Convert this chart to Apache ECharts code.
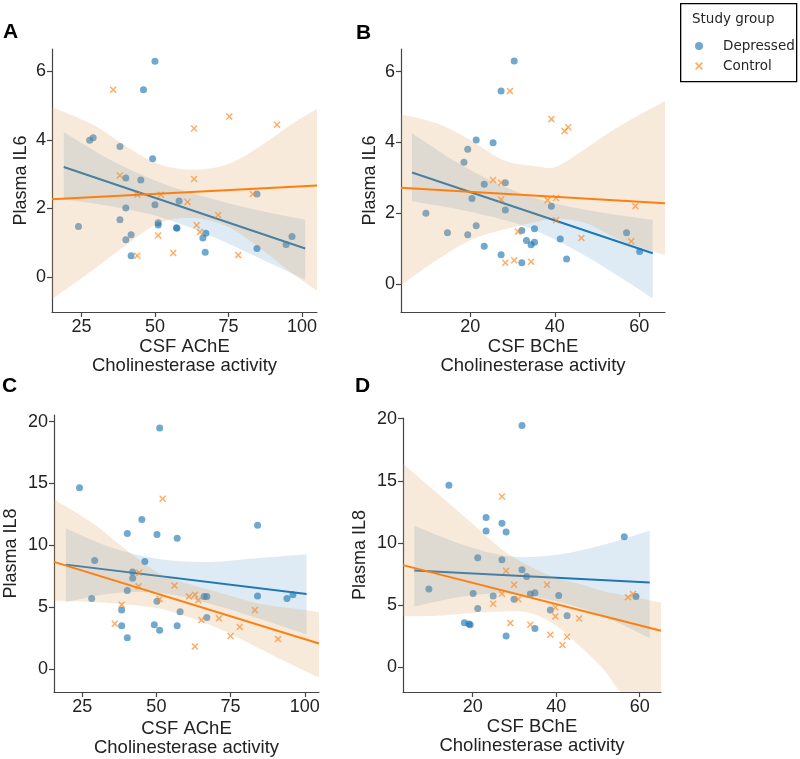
<!DOCTYPE html>
<html><head><meta charset="utf-8">
<script src="https://cdn.jsdelivr.net/npm/echarts@6/dist/echarts.min.js"></script>
<style>html,body{margin:0;padding:0;background:#fff}#c{width:800px;height:759px}</style>
</head><body><div id="c"></div>
<script>
// ---------------- data ----------------
// Panel A: CSF AChE vs Plasma IL6
const depA = [[50.0,6.29],[46.1,5.46],[27.8,3.99],[29.0,4.06],[38.1,3.81],[49.2,3.45],[40.1,2.89],[45.2,2.83],[84.7,2.42],[50.0,2.11],[58.2,2.22],[40.1,2.01],[38.1,1.67],[24.0,1.47],[51.1,1.58],[51.1,1.52],[57.3,1.44],[57.5,1.42],[41.9,1.23],[40.1,1.09],[67.3,1.28],[66.3,1.14],[84.7,0.83],[94.6,0.95],[96.6,1.18],[41.9,0.62],[67.1,0.72]];
const ctlA = [[35.8,5.46],[63.3,4.33],[75.3,4.68],[91.5,4.44],[38.1,2.96],[63.3,2.86],[44.0,2.40],[52.0,2.40],[83.3,2.42],[61.1,2.19],[71.5,1.81],[51.1,1.21],[64.2,1.51],[65.3,1.31],[56.2,0.70],[44.0,0.62],[78.3,0.64]];
// Panel B: CSF BChE vs Plasma IL6
const depB = [[30.4,6.30],[27.3,5.45],[21.4,4.07],[25.4,3.99],[19.4,3.81],[18.5,3.44],[23.3,2.82],[28.3,2.86],[20.4,2.42],[28.3,2.09],[39.2,2.20],[9.5,2.00],[21.4,1.65],[14.6,1.45],[19.4,1.39],[32.2,1.51],[35.2,1.56],[33.3,1.23],[35.2,1.18],[34.4,1.11],[41.3,1.27],[57.0,1.45],[60.1,0.92],[23.3,1.07],[27.3,0.83],[32.2,0.60],[42.8,0.71]];
const ctlB = [[29.4,5.45],[39.2,4.66],[42.3,4.32],[43.2,4.43],[25.4,2.94],[27.3,2.86],[27.3,2.39],[38.3,2.37],[40.3,2.43],[59.1,2.20],[40.3,1.80],[31.3,1.48],[46.3,1.30],[58.1,1.21],[28.3,0.60],[30.4,0.67],[34.4,0.63]];
// Panel C: CSF AChE vs Plasma IL8
const depC = [[51.1,19.49],[24.1,14.65],[45.1,12.08],[40.2,10.95],[50.2,10.87],[57.0,10.57],[84.1,11.62],[29.2,8.76],[46.1,8.68],[42.0,7.84],[42.0,7.32],[40.2,6.33],[28.2,5.68],[50.2,5.46],[66.1,5.84],[67.0,5.84],[84.1,5.89],[94.0,5.68],[96.0,6.00],[38.3,4.75],[58.0,4.62],[67.0,4.16],[38.3,3.49],[49.3,3.57],[57.0,3.49],[51.1,3.11],[40.2,2.51]];
const ctlC = [[52.1,13.76],[44.2,7.78],[44.0,6.67],[56.1,6.73],[38.3,5.19],[51.1,5.65],[61.0,5.84],[63.0,6.00],[64.1,5.54],[83.2,4.75],[65.2,3.94],[71.1,4.08],[78.1,3.38],[36.0,3.65],[75.0,2.65],[91.0,2.40],[63.0,1.81]];
// Panel D: CSF BChE vs Plasma IL8
const depD = [[31.8,19.45],[14.3,14.65],[23.2,12.05],[23.2,10.95],[27.0,11.59],[28.0,10.87],[56.3,10.49],[21.2,8.80],[27.0,8.64],[31.8,7.83],[32.9,7.30],[9.5,6.28],[20.1,5.93],[24.9,5.72],[29.9,5.47],[33.8,5.88],[34.9,5.99],[40.6,5.77],[59.1,5.69],[21.2,4.72],[38.6,4.59],[42.6,4.13],[18.0,3.57],[19.1,3.46],[19.4,3.40],[34.9,3.11],[28.0,2.50]];
const ctlD = [[27.0,13.74],[28.0,7.75],[29.9,6.63],[37.8,6.63],[27.0,5.90],[24.9,5.10],[30.9,5.47],[39.8,4.80],[39.8,4.08],[45.5,3.91],[57.2,5.63],[58.4,5.88],[29.0,3.54],[33.8,3.41],[38.6,2.60],[42.6,2.44],[41.5,1.77]];

// regression lines
const fitAdep = [[19.0,3.21],[101.1,0.83]];
const fitActl = [[15.0,2.27],[105.1,2.67]];
const fitBdep = [[6.2,3.15],[63.2,0.87]];
const fitBctl = [[3.6,2.72],[66.1,2.28]];
const fitCdep = [[19.5,8.43],[100.6,6.05]];
const fitCctl = [[15.5,8.65],[104.8,2.05]];
const fitDdep = [[6.0,7.78],[62.4,6.81]];
const fitDctl = [[3.3,8.21],[65.1,2.92]];

// confidence bands: [x, lower, upper]
const bandAdep = [[19.0,2.26,4.23],[34.6,2.07,3.43],[51.7,1.75,2.76],[68.7,1.21,2.30],[85.8,0.54,1.93],[101.1,-0.08,1.67]];
const bandActl = [[15.0,-0.65,4.95],[29.0,0.21,4.44],[40.3,0.94,3.81],[51.7,1.58,3.28],[63.0,1.72,3.13],[74.4,1.48,3.28],[85.7,0.84,3.81],[97.1,0.08,4.49],[105.1,-0.40,4.90]];
const bandBdep = [[6.2,2.34,4.26],[20.0,2.04,3.22],[34.2,1.57,2.47],[47.6,0.77,2.09],[63.2,-0.40,1.81]];
const bandBctl = [[3.6,-0.03,4.80],[12.1,0.68,4.54],[20.0,1.24,4.07],[27.9,1.54,3.50],[35.8,1.76,3.33],[40.5,1.85,3.32],[47.6,1.71,3.85],[55.5,1.24,4.47],[66.1,0.82,5.17]];
const bandCdep = [[19.5,5.40,11.35],[34.4,6.08,9.86],[51.2,6.13,8.86],[68.0,5.27,8.65],[84.8,4.05,8.97],[100.6,2.78,9.27]];
const bandCctl = [[15.5,5.50,13.70],[28.7,5.40,11.76],[40.0,5.21,9.59],[51.2,4.86,7.70],[62.5,4.05,6.76],[73.7,2.97,6.00],[84.8,1.62,5.27],[96.1,0.27,4.88],[104.8,-0.70,4.59]];
const bandDdep = [[6.0,4.88,11.38],[17.7,5.69,9.85],[29.0,5.90,8.91],[40.2,5.28,9.04],[51.4,4.08,9.85],[62.4,2.33,11.00]];
const bandDctl = [[3.3,4.08,16.37],[11.4,4.13,14.03],[19.4,4.35,11.70],[27.4,4.48,9.37],[33.8,4.35,8.10],[40.2,3.27,7.16],[46.6,1.39,6.60],[51.4,-0.22,6.09],[55.4,-2.0,5.85],[65.1,-5.3,5.20]];

// tick labels
const ticksAChE = [25, 50, 75, 100];
const ticksBChE = [20, 40, 60];
const ticksIL6 = [0, 2, 4, 6];
const ticksIL8 = [0, 5, 10, 15, 20];

const groups = ['Depressed', 'Control'];
const xNameA = 'CSF AChE\nCholinesterase activity';
const xNameB = 'CSF BChE\nCholinesterase activity';
const yName6 = 'Plasma IL6';
const yName8 = 'Plasma IL8';

// ---------------- styling ----------------
const BLUE = '#1f77b4', ORANGE = '#ff7f0e';
const BLUE_PT = 'rgba(31,119,180,0.8)', ORANGE_PT = 'rgba(255,127,14,0.8)';
const BLUE_BAND = 'rgba(31,119,180,0.15)', ORANGE_BAND = 'rgba(222,160,90,0.22)';
const XPATH = 'path://M1.5,0L5,3.5L8.5,0L10,1.5L6.5,5L10,8.5L8.5,10L5,6.5L1.5,10L0,8.5L3.5,5L0,1.5Z';
const FONT = 'Liberation Sans';
const AX = '#444';

const grids = [
  {left: 52, top: 49, width: 265, height: 263},
  {left: 401, top: 49, width: 264, height: 263},
  {left: 54, top: 415, width: 265, height: 277},
  {left: 403, top: 418, width: 258, height: 274}
];
const xr = [[15.0,105.1],[3.6,66.1],[15.5,104.8],[3.3,65.1]];
const yr = [[-1.02,6.65],[-0.79,6.64],[-1.88,20.54],[-2.01,20.06]];
const xt = [ticksAChE, ticksBChE, ticksAChE, ticksBChE];
const yt = [ticksIL6, ticksIL6, ticksIL8, ticksIL8];
const xn = [xNameA, xNameB, xNameA, xNameB];
const yn = [yName6, yName6, yName8, yName8];
const xGap = [25, 25, 27, 25];
const yGap = [22, 22, 34, 34];

function xAxis(i){
  return {gridIndex:i, type:'value', min:xr[i][0], max:xr[i][1],
    axisLine:{show:true, onZero:false, lineStyle:{color:AX, width:1.2}},
    axisTick:{show:true, inside:false, length:5, customValues:xt[i], lineStyle:{color:AX, width:1.2}},
    axisLabel:{customValues:xt[i], margin:6, fontSize:18, fontFamily:FONT, color:'#222'},
    splitLine:{show:false},
    name:xn[i], nameLocation:'middle', nameGap:xGap[i],
    nameTextStyle:{fontSize:18.5, fontFamily:FONT, color:'#222', lineHeight:19.5}};
}
function yAxis(i){
  return {gridIndex:i, type:'value', min:yr[i][0], max:yr[i][1],
    axisLine:{show:true, onZero:false, lineStyle:{color:AX, width:1.2}},
    axisTick:{show:true, inside:false, length:5, customValues:yt[i], lineStyle:{color:AX, width:1.2}},
    axisLabel:{customValues:yt[i], margin:6, fontSize:18, fontFamily:FONT, color:'#222'},
    splitLine:{show:false},
    name:yn[i], nameLocation:'middle', nameGap:yGap[i],
    nameTextStyle:{fontSize:18, fontFamily:FONT, color:'#222'}};
}

// smooth path through pixel points (Catmull-Rom -> Bezier), rendering only
function spline(p){
  let s = '';
  for (let k = 0; k < p.length - 1; k++){
    const p0 = p[Math.max(k-1,0)], p1 = p[k], p2 = p[k+1], p3 = p[Math.min(k+2,p.length-1)];
    const c1 = [p1[0] + (p2[0]-p0[0])/6, p1[1] + (p2[1]-p0[1])/6];
    const c2 = [p2[0] - (p3[0]-p1[0])/6, p2[1] - (p3[1]-p1[1])/6];
    s += 'C' + c1[0] + ',' + c1[1] + ' ' + c2[0] + ',' + c2[1] + ' ' + p2[0] + ',' + p2[1];
  }
  return s;
}

const series = [];
function addGroup(i, pts, fit, band, isDep, zBase){
  const name = isDep ? groups[0] : groups[1];
  series.push({type:'scatter', name:name, xAxisIndex:i, yAxisIndex:i, data:pts,
    symbol: isDep ? 'circle' : XPATH, symbolSize: 7,
    itemStyle:{color: isDep ? BLUE_PT : ORANGE_PT}, z:zBase, silent:true});
  series.push({type:'custom', name:'band'+i+name, xAxisIndex:i, yAxisIndex:i, data:band, clip:true, silent:true, z:zBase+1,
    encode:{x:0, y:[1,2]},
    renderItem: function(params, api){
      if (params.dataIndex !== 0) return null;
      const up = band.map(d => api.coord([d[0], d[2]]));
      const lo = band.map(d => api.coord([d[0], d[1]])).reverse();
      const path = 'M' + up[0][0] + ',' + up[0][1] + spline(up) + 'L' + lo[0][0] + ',' + lo[0][1] + spline(lo) + 'Z';
      return {type:'path', shape:{pathData:path}, style:{fill: isDep ? BLUE_BAND : ORANGE_BAND}};
    }});
  series.push({type:'line', name:'fit'+i+name, xAxisIndex:i, yAxisIndex:i, data:fit, symbol:'none',
    lineStyle:{color: isDep ? BLUE : ORANGE, width:2}, z:zBase+2, silent:true});
}
const panels = [
  [depA, fitAdep, bandAdep, ctlA, fitActl, bandActl],
  [depB, fitBdep, bandBdep, ctlB, fitBctl, bandBctl],
  [depC, fitCdep, bandCdep, ctlC, fitCctl, bandCctl],
  [depD, fitDdep, bandDdep, ctlD, fitDctl, bandDctl]
];
panels.forEach((p, i) => {
  addGroup(i, p[0], p[1], p[2], true, 2);
  addGroup(i, p[3], p[4], p[5], false, 5);
});

const letters = [['A',3,22],['B',356,23],['C',2,376],['D',355,376]];
const graphic = letters.map(l => ({type:'text', left:l[1], top:l[2],
  style:{text:l[0], font:'bold 21px "Liberation Sans"', fill:'#000'}}));
graphic.push({type:'rect', left:680, top:3, z:0, shape:{width:116, height:78},
  style:{fill:'#fff', stroke:'#000', lineWidth:1.3}});
graphic.push({type:'text', left:692, top:12, z:1,
  style:{text:'Study group', font:'13.5px "DejaVu Sans"', fill:'#262626'}});

const option = {
  animation:false,
  backgroundColor:'#fff',
  grid: grids.map(g => Object.assign({containLabel:false, outerBoundsMode:'none'}, g)),
  xAxis: [0,1,2,3].map(xAxis),
  yAxis: [0,1,2,3].map(yAxis),
  legend: {data:[{name:groups[0], icon:'circle'}, {name:groups[1], icon:XPATH}],
    orient:'vertical', left:690, top:34, itemWidth:8, itemHeight:8, itemGap:6, z:5,
    selectedMode:false,
    textStyle:{fontFamily:'DejaVu Sans', fontSize:13.5, color:'#262626', padding:[0,0,0,15], lineHeight:14}},
  graphic: graphic,
  series: series
};
const chart = echarts.init(document.getElementById('c'));
chart.setOption(option);
</script></body></html>
